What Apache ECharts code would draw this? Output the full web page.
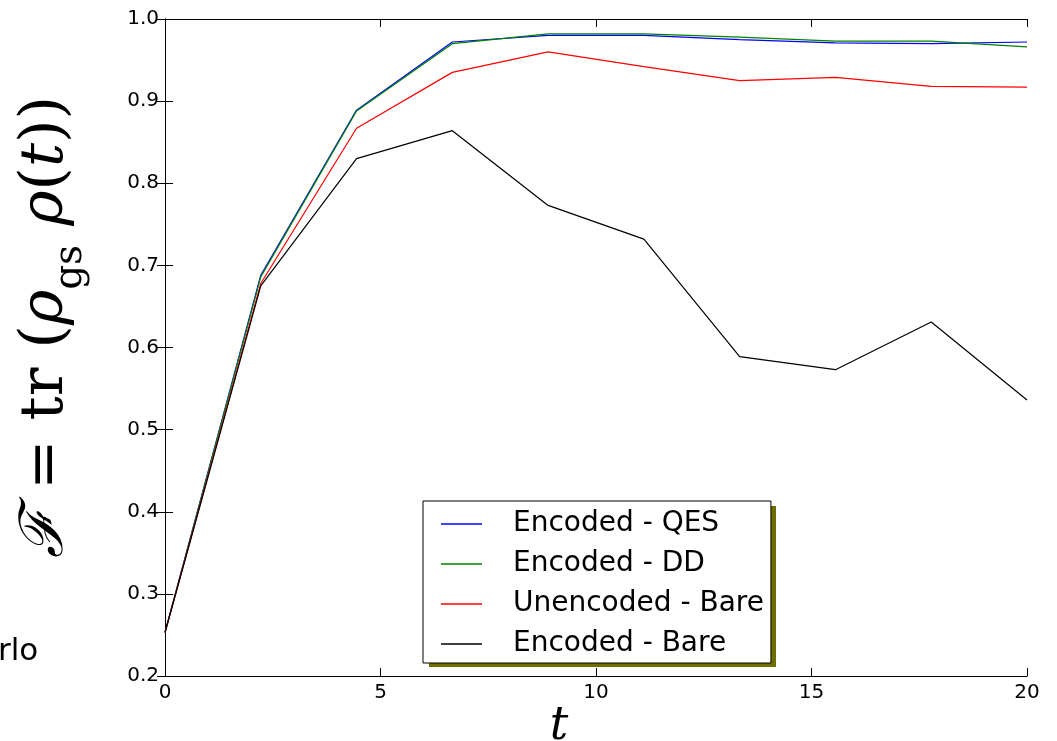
<!DOCTYPE html>
<html>
<head>
<meta charset="utf-8">
<script src="https://cdn.jsdelivr.net/npm/echarts@6/dist/echarts.min.js"></script>
<style>html,body{margin:0;padding:0;background:#fff;}#c{width:1057px;height:741px;}</style>
</head>
<body>
<div id="c"></div>
<script>
var tValues = [0, 2.222, 4.444, 6.667, 8.889, 11.111, 13.333, 15.556, 17.778, 20];
var encodedQES = [0.253, 0.688, 0.889, 0.972, 0.980, 0.980, 0.975, 0.971, 0.970, 0.972];
var encodedDD = [0.253, 0.686, 0.888, 0.970, 0.982, 0.982, 0.978, 0.973, 0.973, 0.966];
var unencodedBare = [0.253, 0.678, 0.867, 0.935, 0.960, 0.942, 0.925, 0.929, 0.918, 0.917];
var encodedBare = [0.253, 0.675, 0.830, 0.864, 0.773, 0.732, 0.589, 0.573, 0.631, 0.536];
var seriesNames = ['Encoded - QES', 'Encoded - DD', 'Unencoded - Bare', 'Encoded - Bare'];
var seriesColors = ['#0000ff', '#008000', '#ff0000', '#000000'];
var seriesValues = [encodedQES, encodedDD, unencodedBare, encodedBare];

function pairs(vals) { return tValues.map(function (t, i) { return [t, vals[i]]; }); }

var chart = echarts.init(document.getElementById('c'));
var labelFont = { fontFamily: 'DejaVu Sans', fontSize: 20, color: '#000' };
function xAx(pos, show) {
  return {
    type: 'value', position: pos, min: 0, max: 20, interval: 5,
    axisLine: { show: true, lineStyle: { color: '#000', width: 1 } },
    axisTick: { show: true, inside: true, length: 8, lineStyle: { color: '#000', width: 1 } },
    axisLabel: Object.assign({ show: show, margin: 7 }, labelFont),
    splitLine: { show: false }
  };
}
function yAx(pos, show) {
  return {
    type: 'value', position: pos, min: 0.2, max: 1.0, interval: 0.1,
    axisLine: { show: true, lineStyle: { color: '#000', width: 1 } },
    axisTick: { show: true, inside: true, length: 8, lineStyle: { color: '#000', width: 1 } },
    axisLabel: Object.assign({ show: show, margin: 6, formatter: function (v) { return v.toFixed(1); } }, labelFont),
    splitLine: { show: false }
  };
}

var serif = "'DejaVu Serif', serif";
chart.setOption({
  animation: false,
  backgroundColor: '#fff',
  grid: { left: 165, right: 30, top: 19, bottom: 65 },
  xAxis: [xAx('bottom', true), xAx('top', false)],
  yAxis: [yAx('left', true), yAx('right', false)],
  legend: {
    orient: 'vertical', left: 423, top: 501, z: 5,
    icon: 'rect', itemWidth: 41, itemHeight: 1.5, itemGap: 10,
    padding: [8, 7, 4, 18],
    backgroundColor: '#fff', borderColor: '#000', borderWidth: 1,
    textStyle: { fontFamily: 'DejaVu Sans', fontSize: 28, color: '#000', lineHeight: 30, padding: [0, 0, 0, 26] },
    data: seriesNames
  },
  series: seriesNames.map(function (n, i) {
    return {
      name: n, type: 'line', data: pairs(seriesValues[i]), symbol: 'none',
      lineStyle: { color: seriesColors[i], width: 1.2 }, itemStyle: { color: seriesColors[i] }
    };
  }),
  graphic: [
    {
      type: 'rect', z: 3, shape: { x: 429, y: 506, width: 347, height: 161 },
      style: { fill: '#6e6e00' }
    },
    {
      type: 'text', x: 559, y: 727,
      style: { text: 't', font: 'italic 46px ' + serif, fill: '#000', align: 'center', verticalAlign: 'middle' }
    },
    {
      type: 'text', x: 53, y: 327, rotation: Math.PI / 2,
      style: {
        text: '{f|ℱ}{a| = tr (}{i|ρ}{s|gs}{i| ρ}{a|(}{i|t}{a|))}',
        align: 'center', verticalAlign: 'middle', fill: '#000',
        rich: {
          f: { fontFamily: serif, fontStyle: 'italic', fontSize: 60, lineHeight: 74, verticalAlign: 'top' },
          a: { fontFamily: serif, fontSize: 60, lineHeight: 74, verticalAlign: 'top' },
          i: { fontFamily: serif, fontStyle: 'italic', fontSize: 60, lineHeight: 74, verticalAlign: 'top' },
          s: { fontFamily: serif, fontSize: 39, lineHeight: 37, verticalAlign: 'bottom' }
        }
      }
    },
    {
      type: 'text', x: -2, y: 652,
      style: { text: 'rlo', font: '31px DejaVu Sans', fill: '#000', align: 'left', verticalAlign: 'middle' }
    }
  ]
});
</script>
</body>
</html>
